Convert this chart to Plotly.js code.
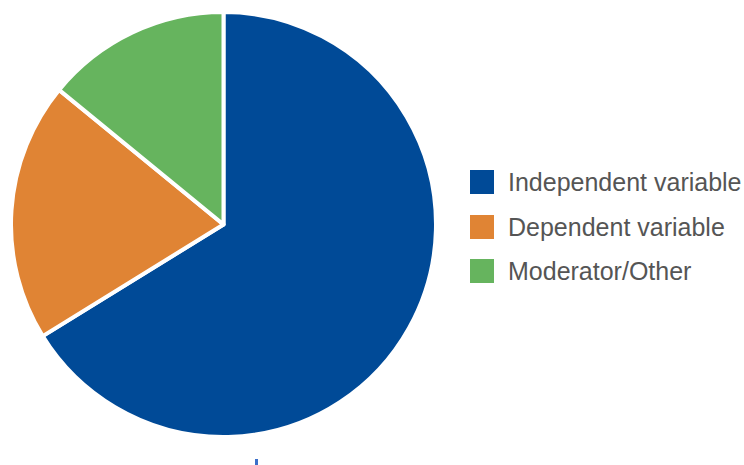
<!DOCTYPE html>
<html>
<head>
<meta charset="utf-8">
<script src="https://cdn.plot.ly/plotly-3.0.1.min.js"></script>
<style>html,body{margin:0;padding:0;background:#fff;}#chart{width:744px;height:465px;}</style>
</head>
<body>
<div id="chart"></div>
<script>
const labels = ["Independent variable", "Dependent variable", "Moderator/Other"];
const values = [47, 14, 10];
const colors = ["#004a97", "#e08434", "#66b45e"];

const W = 744, H = 465;
const trace = {
  type: "pie",
  labels: labels,
  values: values,
  sort: false,
  direction: "clockwise",
  rotation: 0,
  textinfo: "none",
  hoverinfo: "label+percent",
  marker: {colors: colors, line: {color: "#ffffff", width: 4}},
  domain: {x: [10 / W, 437 / W], y: [(H - 437) / H, (H - 12) / H]},
  showlegend: false
};

const shapes = [];
const annotations = [];
const legendY = [182, 227, 271];
labels.forEach((lab, i) => {
  const cy = legendY[i];
  shapes.push({type: "rect", xref: "paper", yref: "paper",
    x0: 470 / W, x1: 494 / W, y0: (H - cy - 12) / H, y1: (H - cy + 12) / H,
    fillcolor: colors[i], line: {width: 0}});
  annotations.push({xref: "paper", yref: "paper", x: 506 / W, y: (H - cy) / H,
    xanchor: "left", yanchor: "middle", showarrow: false, text: lab,
    font: {family: "Liberation Sans, Arial, sans-serif", size: 25, color: "#555555"}});
});
// small stray mark at the bottom edge of the reference
shapes.push({type: "rect", xref: "paper", yref: "paper",
  x0: 255 / W, x1: 258 / W, y0: 0, y1: 6 / H,
  fillcolor: "#3b6fc9", line: {width: 0}});

const layout = {
  width: W, height: H,
  margin: {l: 0, r: 0, t: 0, b: 0},
  paper_bgcolor: "#ffffff",
  plot_bgcolor: "#ffffff",
  showlegend: false,
  shapes: shapes,
  annotations: annotations
};

Plotly.newPlot("chart", [trace], layout, {displayModeBar: false, staticPlot: true});
</script>
</body>
</html>
